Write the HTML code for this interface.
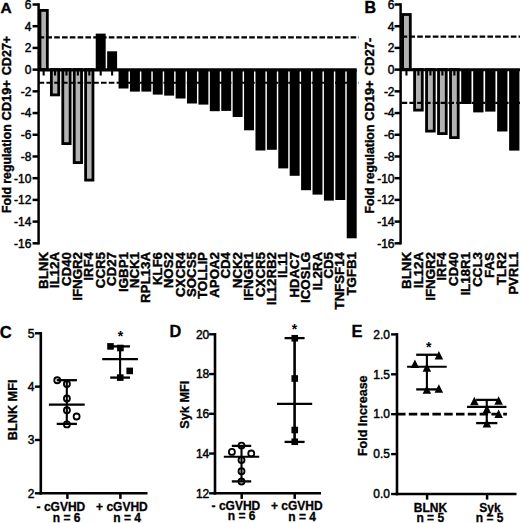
<!DOCTYPE html>
<html><head><meta charset="utf-8"><title>Figure</title>
<style>
html,body{margin:0;padding:0;background:#fff;}
body{width:520px;height:523px;overflow:hidden;font-family:"Liberation Sans",sans-serif;}
svg{display:block;position:absolute;left:0;top:0;}
svg text{font-family:"Liberation Sans",sans-serif;fill:#000;}
</style></head><body>
<svg width="520" height="523" viewBox="0 0 520 523">
<rect x="0" y="0" width="520" height="523" fill="#fff"/>
<g>
<rect x="-5" y="-5" width="530" height="533" fill="#fff"/>
<rect x="39.98" y="10.40" width="7.35" height="59.23" fill="#b2b2b2" stroke="#000" stroke-width="2.8"/>
<rect x="51.38" y="69.63" width="7.35" height="25.27" fill="#b2b2b2" stroke="#000" stroke-width="2.8"/>
<rect x="62.79" y="69.63" width="7.35" height="73.97" fill="#b2b2b2" stroke="#000" stroke-width="2.8"/>
<rect x="74.20" y="69.63" width="7.35" height="92.97" fill="#b2b2b2" stroke="#000" stroke-width="2.8"/>
<rect x="85.61" y="69.63" width="7.35" height="110.47" fill="#b2b2b2" stroke="#000" stroke-width="2.8"/>
<rect x="95.72" y="33.60" width="9.95" height="36.03" fill="#000"/>
<rect x="107.14" y="51.30" width="9.95" height="18.33" fill="#000"/>
<rect x="118.55" y="69.63" width="9.95" height="18.87" fill="#000"/>
<rect x="129.96" y="69.63" width="9.95" height="21.97" fill="#000"/>
<rect x="141.37" y="69.63" width="9.95" height="21.97" fill="#000"/>
<rect x="152.78" y="69.63" width="9.95" height="24.97" fill="#000"/>
<rect x="164.19" y="69.63" width="9.95" height="25.97" fill="#000"/>
<rect x="175.60" y="69.63" width="9.95" height="28.87" fill="#000"/>
<rect x="187.01" y="69.63" width="9.95" height="33.87" fill="#000"/>
<rect x="198.42" y="69.63" width="9.95" height="34.97" fill="#000"/>
<rect x="209.83" y="69.63" width="9.95" height="41.57" fill="#000"/>
<rect x="221.24" y="69.63" width="9.95" height="41.27" fill="#000"/>
<rect x="232.65" y="69.63" width="9.95" height="47.37" fill="#000"/>
<rect x="244.06" y="69.63" width="9.95" height="60.67" fill="#000"/>
<rect x="255.47" y="69.63" width="9.95" height="80.87" fill="#000"/>
<rect x="266.87" y="69.63" width="9.95" height="80.17" fill="#000"/>
<rect x="278.28" y="69.63" width="9.95" height="98.77" fill="#000"/>
<rect x="289.69" y="69.63" width="9.95" height="106.17" fill="#000"/>
<rect x="301.10" y="69.63" width="9.95" height="120.57" fill="#000"/>
<rect x="312.51" y="69.63" width="9.95" height="124.97" fill="#000"/>
<rect x="323.92" y="69.63" width="9.95" height="130.97" fill="#000"/>
<rect x="335.33" y="69.63" width="9.95" height="130.37" fill="#000"/>
<rect x="346.74" y="69.63" width="9.95" height="168.67" fill="#000"/>
<line x1="38.60" y1="3.25" x2="38.60" y2="244.56" stroke="#000" stroke-width="2.5" />
<line x1="32.55" y1="4.50" x2="38.60" y2="4.50" stroke="#000" stroke-width="2.5" />
<text x="31.45" y="8.82" font-size="12" text-anchor="end" stroke="#000" stroke-width="0.45">6</text>
<line x1="32.55" y1="26.21" x2="38.60" y2="26.21" stroke="#000" stroke-width="2.5" />
<text x="31.45" y="30.53" font-size="12" text-anchor="end" stroke="#000" stroke-width="0.45">4</text>
<line x1="32.55" y1="47.92" x2="38.60" y2="47.92" stroke="#000" stroke-width="2.5" />
<text x="31.45" y="52.24" font-size="12" text-anchor="end" stroke="#000" stroke-width="0.45">2</text>
<line x1="32.55" y1="69.63" x2="38.60" y2="69.63" stroke="#000" stroke-width="2.5" />
<text x="31.45" y="73.95" font-size="12" text-anchor="end" stroke="#000" stroke-width="0.45">0</text>
<line x1="32.55" y1="91.34" x2="38.60" y2="91.34" stroke="#000" stroke-width="2.5" />
<text x="31.45" y="95.66" font-size="12" text-anchor="end" stroke="#000" stroke-width="0.45">-2</text>
<line x1="32.55" y1="113.05" x2="38.60" y2="113.05" stroke="#000" stroke-width="2.5" />
<text x="31.45" y="117.37" font-size="12" text-anchor="end" stroke="#000" stroke-width="0.45">-4</text>
<line x1="32.55" y1="134.76" x2="38.60" y2="134.76" stroke="#000" stroke-width="2.5" />
<text x="31.45" y="139.08" font-size="12" text-anchor="end" stroke="#000" stroke-width="0.45">-6</text>
<line x1="32.55" y1="156.47" x2="38.60" y2="156.47" stroke="#000" stroke-width="2.5" />
<text x="31.45" y="160.79" font-size="12" text-anchor="end" stroke="#000" stroke-width="0.45">-8</text>
<line x1="32.55" y1="178.18" x2="38.60" y2="178.18" stroke="#000" stroke-width="2.5" />
<text x="31.45" y="182.50" font-size="12" text-anchor="end" stroke="#000" stroke-width="0.45">-10</text>
<line x1="32.55" y1="199.89" x2="38.60" y2="199.89" stroke="#000" stroke-width="2.5" />
<text x="31.45" y="204.21" font-size="12" text-anchor="end" stroke="#000" stroke-width="0.45">-12</text>
<line x1="32.55" y1="221.60" x2="38.60" y2="221.60" stroke="#000" stroke-width="2.5" />
<text x="31.45" y="225.92" font-size="12" text-anchor="end" stroke="#000" stroke-width="0.45">-14</text>
<line x1="32.55" y1="243.31" x2="38.60" y2="243.31" stroke="#000" stroke-width="2.5" />
<text x="31.45" y="247.63" font-size="12" text-anchor="end" stroke="#000" stroke-width="0.45">-16</text>
<line x1="38.60" y1="69.88" x2="356.69" y2="69.88" stroke="#000" stroke-width="3.2" />
<line x1="43.65" y1="71.03" x2="43.65" y2="75.53" stroke="#000" stroke-width="2.1"/>
<line x1="55.06" y1="71.03" x2="55.06" y2="75.53" stroke="#000" stroke-width="2.1"/>
<line x1="66.47" y1="71.03" x2="66.47" y2="75.53" stroke="#000" stroke-width="2.1"/>
<line x1="77.88" y1="71.03" x2="77.88" y2="75.53" stroke="#000" stroke-width="2.1"/>
<line x1="89.29" y1="71.03" x2="89.29" y2="75.53" stroke="#000" stroke-width="2.1"/>
<line x1="100.70" y1="71.03" x2="100.70" y2="75.53" stroke="#000" stroke-width="2.1"/>
<line x1="112.11" y1="71.03" x2="112.11" y2="75.53" stroke="#000" stroke-width="2.1"/>
<line x1="123.52" y1="71.03" x2="123.52" y2="75.53" stroke="#000" stroke-width="2.1"/>
<line x1="134.93" y1="71.03" x2="134.93" y2="75.53" stroke="#000" stroke-width="2.1"/>
<line x1="146.34" y1="71.03" x2="146.34" y2="75.53" stroke="#000" stroke-width="2.1"/>
<line x1="157.75" y1="71.03" x2="157.75" y2="75.53" stroke="#000" stroke-width="2.1"/>
<line x1="169.16" y1="71.03" x2="169.16" y2="75.53" stroke="#000" stroke-width="2.1"/>
<line x1="180.57" y1="71.03" x2="180.57" y2="75.53" stroke="#000" stroke-width="2.1"/>
<line x1="191.98" y1="71.03" x2="191.98" y2="75.53" stroke="#000" stroke-width="2.1"/>
<line x1="203.39" y1="71.03" x2="203.39" y2="75.53" stroke="#000" stroke-width="2.1"/>
<line x1="214.80" y1="71.03" x2="214.80" y2="75.53" stroke="#000" stroke-width="2.1"/>
<line x1="226.21" y1="71.03" x2="226.21" y2="75.53" stroke="#000" stroke-width="2.1"/>
<line x1="237.62" y1="71.03" x2="237.62" y2="75.53" stroke="#000" stroke-width="2.1"/>
<line x1="249.03" y1="71.03" x2="249.03" y2="75.53" stroke="#000" stroke-width="2.1"/>
<line x1="260.44" y1="71.03" x2="260.44" y2="75.53" stroke="#000" stroke-width="2.1"/>
<line x1="271.85" y1="71.03" x2="271.85" y2="75.53" stroke="#000" stroke-width="2.1"/>
<line x1="283.26" y1="71.03" x2="283.26" y2="75.53" stroke="#000" stroke-width="2.1"/>
<line x1="294.67" y1="71.03" x2="294.67" y2="75.53" stroke="#000" stroke-width="2.1"/>
<line x1="306.08" y1="71.03" x2="306.08" y2="75.53" stroke="#000" stroke-width="2.1"/>
<line x1="317.49" y1="71.03" x2="317.49" y2="75.53" stroke="#000" stroke-width="2.1"/>
<line x1="328.90" y1="71.03" x2="328.90" y2="75.53" stroke="#000" stroke-width="2.1"/>
<line x1="340.31" y1="71.03" x2="340.31" y2="75.53" stroke="#000" stroke-width="2.1"/>
<line x1="351.72" y1="71.03" x2="351.72" y2="75.53" stroke="#000" stroke-width="2.1"/>
<line x1="38.60" y1="37.36" x2="358.80" y2="37.36" stroke="#000" stroke-width="2.1" stroke-dasharray="5.6 2.2"/>
<line x1="38.60" y1="82.80" x2="358.80" y2="82.80" stroke="#000" stroke-width="2.1" stroke-dasharray="5.6 2.2"/>
<text x="47.75" y="252.00" font-size="13.3" text-anchor="end" font-weight="bold" transform="rotate(-90 47.75 252.00)" stroke="#000" stroke-width="0.4">BLNK</text>
<text x="59.16" y="252.00" font-size="13.3" text-anchor="end" font-weight="bold" transform="rotate(-90 59.16 252.00)" stroke="#000" stroke-width="0.4">IL12A</text>
<text x="70.57" y="252.00" font-size="13.3" text-anchor="end" font-weight="bold" transform="rotate(-90 70.57 252.00)" stroke="#000" stroke-width="0.4">CD40</text>
<text x="81.98" y="252.00" font-size="13.3" text-anchor="end" font-weight="bold" transform="rotate(-90 81.98 252.00)" stroke="#000" stroke-width="0.4">IFNGR2</text>
<text x="93.39" y="252.00" font-size="13.3" text-anchor="end" font-weight="bold" transform="rotate(-90 93.39 252.00)" stroke="#000" stroke-width="0.4">IRF4</text>
<text x="104.80" y="252.00" font-size="13.3" text-anchor="end" font-weight="bold" transform="rotate(-90 104.80 252.00)" stroke="#000" stroke-width="0.4">CCR5</text>
<text x="116.21" y="252.00" font-size="13.3" text-anchor="end" font-weight="bold" transform="rotate(-90 116.21 252.00)" stroke="#000" stroke-width="0.4">CD27</text>
<text x="127.62" y="252.00" font-size="13.3" text-anchor="end" font-weight="bold" transform="rotate(-90 127.62 252.00)" stroke="#000" stroke-width="0.4">IGBP1</text>
<text x="139.03" y="252.00" font-size="13.3" text-anchor="end" font-weight="bold" transform="rotate(-90 139.03 252.00)" stroke="#000" stroke-width="0.4">NCK1</text>
<text x="150.44" y="252.00" font-size="13.3" text-anchor="end" font-weight="bold" transform="rotate(-90 150.44 252.00)" stroke="#000" stroke-width="0.4">RPL13A</text>
<text x="161.85" y="252.00" font-size="13.3" text-anchor="end" font-weight="bold" transform="rotate(-90 161.85 252.00)" stroke="#000" stroke-width="0.4">KLF6</text>
<text x="173.26" y="252.00" font-size="13.3" text-anchor="end" font-weight="bold" transform="rotate(-90 173.26 252.00)" stroke="#000" stroke-width="0.4">NOS2</text>
<text x="184.67" y="252.00" font-size="13.3" text-anchor="end" font-weight="bold" transform="rotate(-90 184.67 252.00)" stroke="#000" stroke-width="0.4">CXCR4</text>
<text x="196.08" y="252.00" font-size="13.3" text-anchor="end" font-weight="bold" transform="rotate(-90 196.08 252.00)" stroke="#000" stroke-width="0.4">SOCS5</text>
<text x="207.49" y="252.00" font-size="13.3" text-anchor="end" font-weight="bold" transform="rotate(-90 207.49 252.00)" stroke="#000" stroke-width="0.4">TOLLIP</text>
<text x="218.90" y="252.00" font-size="13.3" text-anchor="end" font-weight="bold" transform="rotate(-90 218.90 252.00)" stroke="#000" stroke-width="0.4">APOA2</text>
<text x="230.31" y="252.00" font-size="13.3" text-anchor="end" font-weight="bold" transform="rotate(-90 230.31 252.00)" stroke="#000" stroke-width="0.4">CD4</text>
<text x="241.72" y="252.00" font-size="13.3" text-anchor="end" font-weight="bold" transform="rotate(-90 241.72 252.00)" stroke="#000" stroke-width="0.4">NCK2</text>
<text x="253.13" y="252.00" font-size="13.3" text-anchor="end" font-weight="bold" transform="rotate(-90 253.13 252.00)" stroke="#000" stroke-width="0.4">IFNGR1</text>
<text x="264.54" y="252.00" font-size="13.3" text-anchor="end" font-weight="bold" transform="rotate(-90 264.54 252.00)" stroke="#000" stroke-width="0.4">CXCR5</text>
<text x="275.95" y="252.00" font-size="13.3" text-anchor="end" font-weight="bold" transform="rotate(-90 275.95 252.00)" stroke="#000" stroke-width="0.4">IL12RB2</text>
<text x="287.36" y="252.00" font-size="13.3" text-anchor="end" font-weight="bold" transform="rotate(-90 287.36 252.00)" stroke="#000" stroke-width="0.4">IL11</text>
<text x="298.77" y="252.00" font-size="13.3" text-anchor="end" font-weight="bold" transform="rotate(-90 298.77 252.00)" stroke="#000" stroke-width="0.4">HDAC7</text>
<text x="310.18" y="252.00" font-size="13.3" text-anchor="end" font-weight="bold" transform="rotate(-90 310.18 252.00)" stroke="#000" stroke-width="0.4">ICOSLG</text>
<text x="321.59" y="252.00" font-size="13.3" text-anchor="end" font-weight="bold" transform="rotate(-90 321.59 252.00)" stroke="#000" stroke-width="0.4">IL2RA</text>
<text x="333.00" y="252.00" font-size="13.3" text-anchor="end" font-weight="bold" transform="rotate(-90 333.00 252.00)" stroke="#000" stroke-width="0.4">CD5</text>
<text x="344.41" y="252.00" font-size="13.3" text-anchor="end" font-weight="bold" transform="rotate(-90 344.41 252.00)" stroke="#000" stroke-width="0.4">TNFSF14</text>
<text x="355.82" y="252.00" font-size="13.3" text-anchor="end" font-weight="bold" transform="rotate(-90 355.82 252.00)" stroke="#000" stroke-width="0.4">TGFB1</text>
<text x="0" y="0" font-size="13.2" font-weight="bold" transform="translate(10.60 213.05) rotate(-90) scale(0.9316 1)" stroke="#000" stroke-width="0.4">Fold regulation</text>
<text x="0" y="0" font-size="13.2" font-weight="bold" transform="translate(10.60 120.52) rotate(-90) scale(0.9754 1)" stroke="#000" stroke-width="0.4">CD19+</text>
<text x="0" y="0" font-size="13.2" font-weight="bold" transform="translate(10.60 75.25) rotate(-90) scale(0.9532 1)" stroke="#000" stroke-width="0.4">CD27+</text>
<text x="0.60" y="12.60" font-size="15.5" text-anchor="start" font-weight="bold" stroke="#000" stroke-width="0.4">A</text>
<rect x="402.60" y="14.50" width="7.70" height="55.13" fill="#b2b2b2" stroke="#000" stroke-width="2.8"/>
<rect x="414.58" y="69.63" width="7.70" height="40.47" fill="#b2b2b2" stroke="#000" stroke-width="2.8"/>
<rect x="426.56" y="69.63" width="7.70" height="61.47" fill="#b2b2b2" stroke="#000" stroke-width="2.8"/>
<rect x="438.54" y="69.63" width="7.70" height="63.97" fill="#b2b2b2" stroke="#000" stroke-width="2.8"/>
<rect x="450.52" y="69.63" width="7.70" height="67.97" fill="#b2b2b2" stroke="#000" stroke-width="2.8"/>
<rect x="461.20" y="69.63" width="10.30" height="34.37" fill="#000"/>
<rect x="473.18" y="69.63" width="10.30" height="42.77" fill="#000"/>
<rect x="485.16" y="69.63" width="10.30" height="41.97" fill="#000"/>
<rect x="497.14" y="69.63" width="10.30" height="61.87" fill="#000"/>
<rect x="509.12" y="69.63" width="10.30" height="80.97" fill="#000"/>
<line x1="400.60" y1="3.25" x2="400.60" y2="244.56" stroke="#000" stroke-width="2.5" />
<line x1="394.55" y1="4.50" x2="400.60" y2="4.50" stroke="#000" stroke-width="2.5" />
<text x="394.55" y="8.82" font-size="12" text-anchor="end" stroke="#000" stroke-width="0.45">6</text>
<line x1="394.55" y1="26.21" x2="400.60" y2="26.21" stroke="#000" stroke-width="2.5" />
<text x="394.55" y="30.53" font-size="12" text-anchor="end" stroke="#000" stroke-width="0.45">4</text>
<line x1="394.55" y1="47.92" x2="400.60" y2="47.92" stroke="#000" stroke-width="2.5" />
<text x="394.55" y="52.24" font-size="12" text-anchor="end" stroke="#000" stroke-width="0.45">2</text>
<line x1="394.55" y1="69.63" x2="400.60" y2="69.63" stroke="#000" stroke-width="2.5" />
<text x="394.55" y="73.95" font-size="12" text-anchor="end" stroke="#000" stroke-width="0.45">0</text>
<line x1="394.55" y1="91.34" x2="400.60" y2="91.34" stroke="#000" stroke-width="2.5" />
<text x="394.55" y="95.66" font-size="12" text-anchor="end" stroke="#000" stroke-width="0.45">-2</text>
<line x1="394.55" y1="113.05" x2="400.60" y2="113.05" stroke="#000" stroke-width="2.5" />
<text x="394.55" y="117.37" font-size="12" text-anchor="end" stroke="#000" stroke-width="0.45">-4</text>
<line x1="394.55" y1="134.76" x2="400.60" y2="134.76" stroke="#000" stroke-width="2.5" />
<text x="394.55" y="139.08" font-size="12" text-anchor="end" stroke="#000" stroke-width="0.45">-6</text>
<line x1="394.55" y1="156.47" x2="400.60" y2="156.47" stroke="#000" stroke-width="2.5" />
<text x="394.55" y="160.79" font-size="12" text-anchor="end" stroke="#000" stroke-width="0.45">-8</text>
<line x1="394.55" y1="178.18" x2="400.60" y2="178.18" stroke="#000" stroke-width="2.5" />
<text x="394.55" y="182.50" font-size="12" text-anchor="end" stroke="#000" stroke-width="0.45">-10</text>
<line x1="394.55" y1="199.89" x2="400.60" y2="199.89" stroke="#000" stroke-width="2.5" />
<text x="394.55" y="204.21" font-size="12" text-anchor="end" stroke="#000" stroke-width="0.45">-12</text>
<line x1="394.55" y1="221.60" x2="400.60" y2="221.60" stroke="#000" stroke-width="2.5" />
<text x="394.55" y="225.92" font-size="12" text-anchor="end" stroke="#000" stroke-width="0.45">-14</text>
<line x1="394.55" y1="243.31" x2="400.60" y2="243.31" stroke="#000" stroke-width="2.5" />
<text x="394.55" y="247.63" font-size="12" text-anchor="end" stroke="#000" stroke-width="0.45">-16</text>
<line x1="400.60" y1="69.63" x2="520.00" y2="69.63" stroke="#000" stroke-width="3.0" />
<line x1="406.45" y1="71.03" x2="406.45" y2="75.53" stroke="#000" stroke-width="2.1"/>
<line x1="418.43" y1="71.03" x2="418.43" y2="75.53" stroke="#000" stroke-width="2.1"/>
<line x1="430.41" y1="71.03" x2="430.41" y2="75.53" stroke="#000" stroke-width="2.1"/>
<line x1="442.39" y1="71.03" x2="442.39" y2="75.53" stroke="#000" stroke-width="2.1"/>
<line x1="454.37" y1="71.03" x2="454.37" y2="75.53" stroke="#000" stroke-width="2.1"/>
<line x1="466.35" y1="71.03" x2="466.35" y2="75.53" stroke="#000" stroke-width="2.1"/>
<line x1="478.33" y1="71.03" x2="478.33" y2="75.53" stroke="#000" stroke-width="2.1"/>
<line x1="490.31" y1="71.03" x2="490.31" y2="75.53" stroke="#000" stroke-width="2.1"/>
<line x1="502.29" y1="71.03" x2="502.29" y2="75.53" stroke="#000" stroke-width="2.1"/>
<line x1="514.27" y1="71.03" x2="514.27" y2="75.53" stroke="#000" stroke-width="2.1"/>
<line x1="401.60" y1="36.60" x2="520.00" y2="36.60" stroke="#000" stroke-width="2.1" stroke-dasharray="5.6 2.2"/>
<line x1="401.60" y1="102.85" x2="520.00" y2="102.85" stroke="#000" stroke-width="2.1" stroke-dasharray="5.6 2.2"/>
<text x="410.75" y="252.00" font-size="13.3" text-anchor="end" font-weight="bold" transform="rotate(-90 410.75 252.00)" stroke="#000" stroke-width="0.4">BLNK</text>
<text x="422.65" y="252.00" font-size="13.3" text-anchor="end" font-weight="bold" transform="rotate(-90 422.65 252.00)" stroke="#000" stroke-width="0.4">IL12A</text>
<text x="434.55" y="252.00" font-size="13.3" text-anchor="end" font-weight="bold" transform="rotate(-90 434.55 252.00)" stroke="#000" stroke-width="0.4">IFNGR2</text>
<text x="446.45" y="252.00" font-size="13.3" text-anchor="end" font-weight="bold" transform="rotate(-90 446.45 252.00)" stroke="#000" stroke-width="0.4">IRF4</text>
<text x="458.35" y="252.00" font-size="13.3" text-anchor="end" font-weight="bold" transform="rotate(-90 458.35 252.00)" stroke="#000" stroke-width="0.4">CD40</text>
<text x="470.25" y="252.00" font-size="13.3" text-anchor="end" font-weight="bold" transform="rotate(-90 470.25 252.00)" stroke="#000" stroke-width="0.4">IL18R1</text>
<text x="482.15" y="252.00" font-size="13.3" text-anchor="end" font-weight="bold" transform="rotate(-90 482.15 252.00)" stroke="#000" stroke-width="0.4">CCL3</text>
<text x="494.05" y="252.00" font-size="13.3" text-anchor="end" font-weight="bold" transform="rotate(-90 494.05 252.00)" stroke="#000" stroke-width="0.4">FAS</text>
<text x="505.95" y="252.00" font-size="13.3" text-anchor="end" font-weight="bold" transform="rotate(-90 505.95 252.00)" stroke="#000" stroke-width="0.4">TLR2</text>
<text x="517.85" y="252.00" font-size="13.3" text-anchor="end" font-weight="bold" transform="rotate(-90 517.85 252.00)" stroke="#000" stroke-width="0.4">PVRL1</text>
<text x="0" y="0" font-size="13.2" font-weight="bold" transform="translate(374.20 213.40) rotate(-90) scale(0.9322 1)" stroke="#000" stroke-width="0.4">Fold regulation</text>
<text x="0" y="0" font-size="13.2" font-weight="bold" transform="translate(374.20 120.82) rotate(-90) scale(0.9754 1)" stroke="#000" stroke-width="0.4">CD19+</text>
<text x="0" y="0" font-size="13.2" font-weight="bold" transform="translate(374.20 75.53) rotate(-90) scale(0.9948 1)" stroke="#000" stroke-width="0.4">CD27-</text>
<text x="364.60" y="12.60" font-size="16" text-anchor="start" font-weight="bold" stroke="#000" stroke-width="0.4">B</text>
<line x1="40.80" y1="332.00" x2="40.80" y2="494.60" stroke="#000" stroke-width="2.6" />
<line x1="34.90" y1="333.30" x2="40.80" y2="333.30" stroke="#000" stroke-width="2.4" />
<text x="34.50" y="337.55" font-size="12" text-anchor="end" stroke="#000" stroke-width="0.45">5</text>
<line x1="34.90" y1="386.63" x2="40.80" y2="386.63" stroke="#000" stroke-width="2.4" />
<text x="34.50" y="390.88" font-size="12" text-anchor="end" stroke="#000" stroke-width="0.45">4</text>
<line x1="34.90" y1="439.97" x2="40.80" y2="439.97" stroke="#000" stroke-width="2.4" />
<text x="34.50" y="444.22" font-size="12" text-anchor="end" stroke="#000" stroke-width="0.45">3</text>
<line x1="34.90" y1="493.30" x2="40.80" y2="493.30" stroke="#000" stroke-width="2.4" />
<text x="34.50" y="497.55" font-size="12" text-anchor="end" stroke="#000" stroke-width="0.45">2</text>
<line x1="39.50" y1="493.30" x2="147.50" y2="493.30" stroke="#000" stroke-width="2.6" />
<line x1="67.40" y1="493.30" x2="67.40" y2="498.90" stroke="#000" stroke-width="2.5" />
<line x1="120.40" y1="493.30" x2="120.40" y2="498.90" stroke="#000" stroke-width="2.5" />
<text x="16.80" y="409.90" font-size="12.7" text-anchor="middle" font-weight="bold" transform="rotate(-90 16.80 409.90)" stroke="#000" stroke-width="0.3">BLNK MFI</text>
<text x="-0.30" y="337.50" font-size="16.6" text-anchor="start" font-weight="bold" stroke="#000" stroke-width="0.3">C</text>
<line x1="66.80" y1="380.20" x2="66.80" y2="423.90" stroke="#000" stroke-width="2.1" />
<line x1="56.70" y1="380.20" x2="76.90" y2="380.20" stroke="#000" stroke-width="2.3000000000000003" />
<line x1="56.70" y1="423.90" x2="76.90" y2="423.90" stroke="#000" stroke-width="2.3000000000000003" />
<line x1="48.90" y1="404.60" x2="84.70" y2="404.60" stroke="#000" stroke-width="2.1" />
<circle cx="57.25" cy="380.25" r="3.0" fill="none" stroke="#000" stroke-width="1.8"/>
<circle cx="66.90" cy="384.00" r="3.0" fill="none" stroke="#000" stroke-width="1.8"/>
<circle cx="66.90" cy="398.50" r="3.0" fill="none" stroke="#000" stroke-width="1.8"/>
<circle cx="66.90" cy="410.25" r="3.0" fill="none" stroke="#000" stroke-width="1.8"/>
<circle cx="76.60" cy="416.50" r="3.0" fill="none" stroke="#000" stroke-width="1.8"/>
<circle cx="66.90" cy="424.40" r="3.0" fill="none" stroke="#000" stroke-width="1.8"/>
<line x1="120.10" y1="346.40" x2="120.10" y2="377.60" stroke="#000" stroke-width="2.1" />
<line x1="110.20" y1="346.40" x2="130.00" y2="346.40" stroke="#000" stroke-width="2.3000000000000003" />
<line x1="110.20" y1="377.60" x2="130.00" y2="377.60" stroke="#000" stroke-width="2.3000000000000003" />
<line x1="102.20" y1="359.10" x2="138.00" y2="359.10" stroke="#000" stroke-width="2.1" />
<rect x="107.20" y="343.10" width="6.60" height="6.60" fill="#000"/>
<rect x="117.10" y="344.70" width="6.60" height="6.60" fill="#000"/>
<rect x="126.40" y="367.60" width="6.60" height="6.60" fill="#000"/>
<rect x="116.95" y="374.30" width="6.60" height="6.60" fill="#000"/>
<text x="120.40" y="340.50" font-size="14" text-anchor="middle" font-weight="bold" >*</text>
<text x="60.90" y="510.70" font-size="12" text-anchor="middle" font-weight="bold" stroke="#000" stroke-width="0.3">- cGVHD</text>
<text x="66.70" y="521.50" font-size="12" text-anchor="middle" font-weight="bold" stroke="#000" stroke-width="0.3">n = 6</text>
<text x="121.90" y="510.70" font-size="12" text-anchor="middle" font-weight="bold" stroke="#000" stroke-width="0.3">+ cGVHD</text>
<text x="127.20" y="521.50" font-size="12" text-anchor="middle" font-weight="bold" stroke="#000" stroke-width="0.3">n = 4</text>
<line x1="215.00" y1="333.00" x2="215.00" y2="494.60" stroke="#000" stroke-width="2.6" />
<line x1="209.10" y1="334.30" x2="215.00" y2="334.30" stroke="#000" stroke-width="2.4" />
<text x="209.30" y="338.55" font-size="12" text-anchor="end" stroke="#000" stroke-width="0.45">20</text>
<line x1="209.10" y1="374.05" x2="215.00" y2="374.05" stroke="#000" stroke-width="2.4" />
<text x="209.30" y="378.30" font-size="12" text-anchor="end" stroke="#000" stroke-width="0.45">18</text>
<line x1="209.10" y1="413.80" x2="215.00" y2="413.80" stroke="#000" stroke-width="2.4" />
<text x="209.30" y="418.05" font-size="12" text-anchor="end" stroke="#000" stroke-width="0.45">16</text>
<line x1="209.10" y1="453.55" x2="215.00" y2="453.55" stroke="#000" stroke-width="2.4" />
<text x="209.30" y="457.80" font-size="12" text-anchor="end" stroke="#000" stroke-width="0.45">14</text>
<line x1="209.10" y1="493.30" x2="215.00" y2="493.30" stroke="#000" stroke-width="2.4" />
<text x="209.30" y="497.55" font-size="12" text-anchor="end" stroke="#000" stroke-width="0.45">12</text>
<line x1="213.70" y1="493.30" x2="321.00" y2="493.30" stroke="#000" stroke-width="2.6" />
<line x1="241.70" y1="493.30" x2="241.70" y2="498.90" stroke="#000" stroke-width="2.5" />
<line x1="294.70" y1="493.30" x2="294.70" y2="498.90" stroke="#000" stroke-width="2.5" />
<text x="188.90" y="404.70" font-size="12.7" text-anchor="middle" font-weight="bold" transform="rotate(-90 188.90 404.70)" stroke="#000" stroke-width="0.3">Syk MFI</text>
<text x="169.60" y="336.60" font-size="16.3" text-anchor="start" font-weight="bold" stroke="#000" stroke-width="0.3">D</text>
<line x1="241.50" y1="445.90" x2="241.50" y2="481.40" stroke="#000" stroke-width="2.1" />
<line x1="231.80" y1="445.90" x2="251.20" y2="445.90" stroke="#000" stroke-width="2.3000000000000003" />
<line x1="231.80" y1="481.40" x2="251.20" y2="481.40" stroke="#000" stroke-width="2.3000000000000003" />
<line x1="223.80" y1="456.70" x2="259.20" y2="456.70" stroke="#000" stroke-width="2.1" />
<circle cx="241.50" cy="445.60" r="3.0" fill="none" stroke="#000" stroke-width="1.8"/>
<circle cx="231.90" cy="451.90" r="3.0" fill="none" stroke="#000" stroke-width="1.8"/>
<circle cx="251.25" cy="453.50" r="3.0" fill="none" stroke="#000" stroke-width="1.8"/>
<circle cx="241.50" cy="460.00" r="3.0" fill="none" stroke="#000" stroke-width="1.8"/>
<circle cx="241.50" cy="471.25" r="3.0" fill="none" stroke="#000" stroke-width="1.8"/>
<circle cx="241.50" cy="481.50" r="3.0" fill="none" stroke="#000" stroke-width="1.8"/>
<line x1="294.60" y1="338.10" x2="294.60" y2="441.90" stroke="#000" stroke-width="2.6" />
<line x1="284.60" y1="338.10" x2="304.60" y2="338.10" stroke="#000" stroke-width="2.3000000000000003" />
<line x1="284.60" y1="441.90" x2="304.60" y2="441.90" stroke="#000" stroke-width="2.3000000000000003" />
<line x1="277.00" y1="403.90" x2="312.20" y2="403.90" stroke="#000" stroke-width="2.1" />
<rect x="291.45" y="334.95" width="6.60" height="6.60" fill="#000"/>
<rect x="291.45" y="375.20" width="6.60" height="6.60" fill="#000"/>
<rect x="291.45" y="426.70" width="6.60" height="6.60" fill="#000"/>
<rect x="291.45" y="438.45" width="6.60" height="6.60" fill="#000"/>
<text x="294.40" y="334.15" font-size="14" text-anchor="middle" font-weight="bold" >*</text>
<text x="235.90" y="509.80" font-size="12" text-anchor="middle" font-weight="bold" stroke="#000" stroke-width="0.3">- cGVHD</text>
<text x="241.60" y="520.40" font-size="12" text-anchor="middle" font-weight="bold" stroke="#000" stroke-width="0.3">n = 6</text>
<text x="296.80" y="509.80" font-size="12" text-anchor="middle" font-weight="bold" stroke="#000" stroke-width="0.3">+ cGVHD</text>
<text x="302.10" y="520.50" font-size="12" text-anchor="middle" font-weight="bold" stroke="#000" stroke-width="0.3">n = 4</text>
<line x1="397.00" y1="414.20" x2="506.90" y2="414.20" stroke="#000" stroke-width="2.8" stroke-dasharray="8.5 3.3"/>
<line x1="397.00" y1="333.10" x2="397.00" y2="495.30" stroke="#000" stroke-width="2.6" />
<line x1="391.10" y1="334.40" x2="397.00" y2="334.40" stroke="#000" stroke-width="2.4" />
<text x="390.00" y="338.65" font-size="12" text-anchor="end" stroke="#000" stroke-width="0.45">2.0</text>
<line x1="391.10" y1="374.30" x2="397.00" y2="374.30" stroke="#000" stroke-width="2.4" />
<text x="390.00" y="378.55" font-size="12" text-anchor="end" stroke="#000" stroke-width="0.45">1.5</text>
<line x1="391.10" y1="414.20" x2="397.00" y2="414.20" stroke="#000" stroke-width="2.4" />
<text x="390.00" y="418.45" font-size="12" text-anchor="end" stroke="#000" stroke-width="0.45">1.0</text>
<line x1="391.10" y1="454.10" x2="397.00" y2="454.10" stroke="#000" stroke-width="2.4" />
<text x="390.00" y="458.35" font-size="12" text-anchor="end" stroke="#000" stroke-width="0.45">0.5</text>
<line x1="391.10" y1="494.00" x2="397.00" y2="494.00" stroke="#000" stroke-width="2.4" />
<text x="390.00" y="498.25" font-size="12" text-anchor="end" stroke="#000" stroke-width="0.45">0.0</text>
<line x1="395.70" y1="494.00" x2="516.50" y2="494.00" stroke="#000" stroke-width="2.6" />
<line x1="427.10" y1="494.00" x2="427.10" y2="499.60" stroke="#000" stroke-width="2.5" />
<line x1="487.10" y1="494.00" x2="487.10" y2="499.60" stroke="#000" stroke-width="2.5" />
<text x="367.30" y="415.75" font-size="12.5" text-anchor="middle" font-weight="bold" transform="rotate(-90 367.30 415.75)" stroke="#000" stroke-width="0.3">Fold Increase</text>
<text x="351.60" y="336.60" font-size="16.5" text-anchor="start" font-weight="bold" stroke="#000" stroke-width="0.3">E</text>
<line x1="426.90" y1="354.75" x2="426.90" y2="389.40" stroke="#000" stroke-width="2.1" />
<line x1="416.20" y1="354.75" x2="437.60" y2="354.75" stroke="#000" stroke-width="2.3000000000000003" />
<line x1="416.20" y1="389.40" x2="437.60" y2="389.40" stroke="#000" stroke-width="2.3000000000000003" />
<line x1="407.10" y1="366.70" x2="446.70" y2="366.70" stroke="#000" stroke-width="2.1" />
<polygon points="438.90,350.90 434.65,359.40 443.15,359.40" fill="#000"/>
<polygon points="414.90,359.50 410.65,368.00 419.15,368.00" fill="#000"/>
<polygon points="426.90,363.30 422.65,371.80 431.15,371.80" fill="#000"/>
<polygon points="426.90,385.20 422.65,393.70 431.15,393.70" fill="#000"/>
<polygon points="438.90,384.30 434.65,392.80 443.15,392.80" fill="#000"/>
<text x="428.75" y="352.40" font-size="14" text-anchor="middle" font-weight="bold" >*</text>
<line x1="486.75" y1="399.90" x2="486.75" y2="423.10" stroke="#000" stroke-width="2.1" />
<line x1="476.15" y1="399.90" x2="497.35" y2="399.90" stroke="#000" stroke-width="2.3000000000000003" />
<line x1="476.15" y1="423.10" x2="497.35" y2="423.10" stroke="#000" stroke-width="2.3000000000000003" />
<line x1="467.05" y1="406.90" x2="506.45" y2="406.90" stroke="#000" stroke-width="2.1" />
<polygon points="474.40,396.70 470.15,405.20 478.65,405.20" fill="#000"/>
<polygon points="498.60,396.30 494.35,404.80 502.85,404.80" fill="#000"/>
<polygon points="486.90,404.80 482.65,413.30 491.15,413.30" fill="#000"/>
<polygon points="498.60,409.60 494.35,418.10 502.85,418.10" fill="#000"/>
<polygon points="486.90,419.00 482.65,427.50 491.15,427.50" fill="#000"/>
<text x="430.40" y="511.70" font-size="12" text-anchor="middle" font-weight="bold" stroke="#000" stroke-width="0.3">BLNK</text>
<text x="430.30" y="522.40" font-size="12" text-anchor="middle" font-weight="bold" stroke="#000" stroke-width="0.3">n = 5</text>
<text x="490.00" y="511.70" font-size="12" text-anchor="middle" font-weight="bold" stroke="#000" stroke-width="0.3">Syk</text>
<text x="489.70" y="522.40" font-size="12" text-anchor="middle" font-weight="bold" stroke="#000" stroke-width="0.3">n = 5</text>
</g>
</svg>
</body></html>
